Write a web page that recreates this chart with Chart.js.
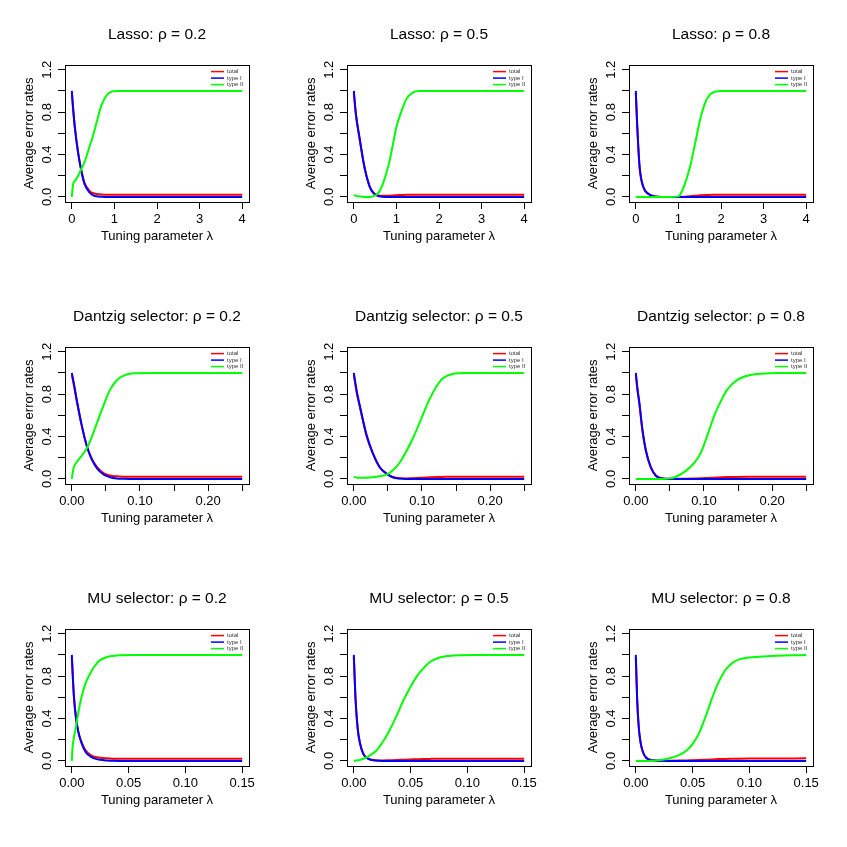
<!DOCTYPE html>
<html>
<head>
<meta charset="utf-8">
<script src="https://cdn.jsdelivr.net/npm/chart.js@4.4.0/dist/chart.umd.min.js"></script>
<style>
  body { margin: 0; background: #fff; }
  #grid { position: relative; width: 847px; height: 847px; }
  .cell { position: absolute; width: 282px; height: 282px; }
</style>
</head>
<body>
<div id="grid"></div>
<script>
// tick values / labels shared by the panels
const yTickValues = [0, 0.2, 0.4, 0.6, 0.8, 1.0, 1.2];
const yTickLabels = ['0.0', '', '0.4', '', '0.8', '', '1.2'];
const lassoTicks = [0, 1, 2, 3, 4];
const lassoTickLabels = ['0', '1', '2', '3', '4'];
const dantzigTicks = [0, 0.05, 0.10, 0.15, 0.20, 0.25];
const dantzigTickLabels = ['0.00', '', '0.10', '', '0.20', ''];
const muTicks = [0, 0.05, 0.10, 0.15];
const muTickLabels = ['0.00', '0.05', '0.10', '0.15'];
const seriesNames = ['total', 'type I', 'type II'];

// Lasso, rho = 0.2
const lasso02X = [0, 0.03, 0.07, 0.15, 0.23, 0.3, 0.42, 0.5, 0.58, 0.7, 0.84, 0.97, 1.1, 1.3, 2, 3, 4];
const lasso02Total = [0.98, 0.83, 0.66, 0.41, 0.24, 0.13, 0.055, 0.035, 0.027, 0.022, 0.02, 0.02, 0.02, 0.02, 0.02, 0.02, 0.02];
const lasso02TypeI = [1.0, 0.84, 0.66, 0.41, 0.23, 0.12, 0.04, 0.015, 0.006, 0.002, 0, 0, 0, 0, 0, 0, 0];
const lasso02TypeII = [0, 0.12, 0.15, 0.2, 0.27, 0.33, 0.48, 0.58, 0.7, 0.87, 0.97, 0.997, 1.0, 1.0, 1.0, 1.0, 1.0];

// Lasso, rho = 0.5
const lasso05X = [0, 0.05, 0.13, 0.25, 0.37, 0.45, 0.53, 0.6, 0.68, 0.76, 0.84, 0.92, 1.0, 1.12, 1.23, 1.39, 1.55, 2, 3, 4];
const lasso05Total = [0.98, 0.77, 0.56, 0.28, 0.1, 0.045, 0.02, 0.012, 0.01, 0.01, 0.012, 0.014, 0.016, 0.018, 0.02, 0.02, 0.02, 0.02, 0.02, 0.02];
const lasso05TypeI = [1.0, 0.78, 0.57, 0.28, 0.1, 0.04, 0.015, 0.006, 0.002, 0, 0, 0, 0, 0, 0, 0, 0, 0, 0, 0];
const lasso05TypeII = [0.02, 0.01, 0.005, 0, 0, 0.005, 0.02, 0.05, 0.12, 0.22, 0.34, 0.5, 0.66, 0.81, 0.92, 0.985, 0.998, 1.0, 1.0, 1.0];

// Lasso, rho = 0.8
const lasso08X = [0, 0.03, 0.055, 0.09, 0.17, 0.29, 0.45, 0.8, 1.0, 1.04, 1.15, 1.27, 1.39, 1.51, 1.63, 1.74, 1.86, 2.02, 3, 4];
const lasso08Total = [0.98, 0.69, 0.49, 0.27, 0.1, 0.03, 0.005, 0, 0, 0.0004, 0.0024, 0.0056, 0.01, 0.015, 0.018, 0.019, 0.02, 0.02, 0.02, 0.02];
const lasso08TypeI = [1.0, 0.7, 0.5, 0.28, 0.1, 0.03, 0.005, 0, 0, 0, 0, 0, 0, 0, 0, 0, 0, 0, 0, 0];
const lasso08TypeII = [0, 0, 0, 0, 0, 0, 0, 0, 0.005, 0.02, 0.12, 0.28, 0.5, 0.73, 0.89, 0.965, 0.993, 1.0, 1.0, 1.0];

// Dantzig selector, rho = 0.2
const dantzig02X = [0, 0.0025, 0.0074, 0.0147, 0.022, 0.029, 0.037, 0.047, 0.056, 0.066, 0.076, 0.091, 0.12, 0.18, 0.25];
const dantzig02Total = [0.98, 0.9, 0.73, 0.5, 0.31, 0.19, 0.11, 0.053, 0.032, 0.024, 0.021, 0.02, 0.02, 0.02, 0.02];
const dantzig02TypeI = [1.0, 0.92, 0.74, 0.5, 0.31, 0.19, 0.1, 0.04, 0.016, 0.005, 0.002, 0, 0, 0, 0];
const dantzig02TypeII = [0, 0.1, 0.16, 0.22, 0.29, 0.39, 0.53, 0.7, 0.84, 0.93, 0.975, 0.997, 1.0, 1.0, 1.0];

// Dantzig selector, rho = 0.5
const dantzig05X = [0, 0.004, 0.0088, 0.0185, 0.028, 0.038, 0.048, 0.057, 0.067, 0.077, 0.085, 0.092, 0.101, 0.111, 0.121, 0.13, 0.145, 0.165, 0.2, 0.25];
const dantzig05Total = [0.98, 0.82, 0.68, 0.41, 0.24, 0.11, 0.05, 0.018, 0.006, 0.005, 0.007, 0.009, 0.012, 0.015, 0.018, 0.019, 0.02, 0.02, 0.02, 0.02];
const dantzig05TypeI = [1.0, 0.84, 0.69, 0.42, 0.24, 0.11, 0.05, 0.016, 0.003, 0, 0, 0, 0, 0, 0, 0, 0, 0, 0, 0];
const dantzig05TypeII = [0.02, 0.012, 0.01, 0.01, 0.015, 0.025, 0.04, 0.08, 0.15, 0.26, 0.36, 0.46, 0.6, 0.75, 0.87, 0.945, 0.99, 1.0, 1.0, 1.0];

// Dantzig selector, rho = 0.8
const dantzig08X = [0, 0.0025, 0.005, 0.0098, 0.0148, 0.022, 0.0295, 0.037, 0.05, 0.057, 0.071, 0.087, 0.097, 0.106, 0.116, 0.126, 0.135, 0.148, 0.165, 0.185, 0.21, 0.25];
const dantzig08Total = [0.98, 0.83, 0.72, 0.45, 0.26, 0.11, 0.03, 0.006, 0.001, 0.001, 0.002, 0.004, 0.006, 0.009, 0.012, 0.015, 0.017, 0.019, 0.02, 0.02, 0.02, 0.02];
const dantzig08TypeI = [1.0, 0.85, 0.73, 0.46, 0.27, 0.11, 0.03, 0.006, 0, 0, 0, 0, 0, 0, 0, 0, 0, 0, 0, 0, 0, 0];
const dantzig08TypeII = [0, 0, 0, 0, 0, 0, 0, 0, 0.005, 0.016, 0.064, 0.16, 0.27, 0.43, 0.61, 0.75, 0.85, 0.93, 0.975, 0.993, 0.999, 1.0];

// MU selector, rho = 0.2
const mu02X = [0, 0.0006, 0.0018, 0.0035, 0.0056, 0.0085, 0.0124, 0.0174, 0.022, 0.025, 0.031, 0.036, 0.042, 0.054, 0.1, 0.15];
const mu02Total = [0.98, 0.85, 0.61, 0.42, 0.28, 0.18, 0.094, 0.051, 0.035, 0.029, 0.024, 0.021, 0.02, 0.02, 0.02, 0.02];
const mu02TypeI = [1.0, 0.86, 0.62, 0.42, 0.28, 0.17, 0.08, 0.035, 0.017, 0.01, 0.004, 0.001, 0, 0, 0, 0];
const mu02TypeII = [0, 0.12, 0.22, 0.31, 0.45, 0.6, 0.74, 0.85, 0.92, 0.95, 0.98, 0.99, 0.997, 1.0, 1.0, 1.0];

// MU selector, rho = 0.5
const mu05X = [0, 0.0015, 0.0035, 0.0056, 0.0085, 0.0124, 0.0197, 0.0256, 0.0315, 0.0374, 0.0432, 0.049, 0.055, 0.061, 0.0668, 0.0756, 0.0874, 0.105, 0.15];
const mu05Total = [0.98, 0.58, 0.29, 0.157, 0.063, 0.022, 0.005, 0.004, 0.006, 0.008, 0.011, 0.014, 0.016, 0.018, 0.019, 0.02, 0.02, 0.02, 0.02];
const mu05TypeI = [1.0, 0.59, 0.3, 0.16, 0.064, 0.022, 0.003, 0, 0, 0, 0, 0, 0, 0, 0, 0, 0, 0, 0];
const mu05TypeII = [0, 0.003, 0.006, 0.01, 0.02, 0.04, 0.096, 0.18, 0.29, 0.42, 0.56, 0.68, 0.79, 0.87, 0.93, 0.975, 0.994, 1.0, 1.0];

// MU selector, rho = 0.8
const mu08X = [0, 0.0012, 0.0026, 0.0041, 0.0062, 0.0091, 0.0144, 0.0203, 0.029, 0.038, 0.045, 0.05, 0.0556, 0.0615, 0.0674, 0.0732, 0.079, 0.085, 0.091, 0.1, 0.114, 0.15];
const mu08Total = [0.98, 0.57, 0.31, 0.18, 0.084, 0.03, 0.006, 0.002, 0.002, 0.003, 0.005, 0.006, 0.008, 0.011, 0.014, 0.017, 0.019, 0.02, 0.021, 0.022, 0.023, 0.024];
const mu08TypeI = [1.0, 0.58, 0.32, 0.18, 0.086, 0.03, 0.006, 0.001, 0, 0, 0, 0, 0, 0, 0, 0, 0, 0, 0, 0, 0, 0];
const mu08TypeII = [0, 0, 0, 0, 0, 0, 0.002, 0.006, 0.022, 0.054, 0.1, 0.16, 0.26, 0.42, 0.6, 0.75, 0.86, 0.925, 0.958, 0.975, 0.986, 1.0];

const FONT = "'Liberation Sans', Arial, Helvetica, sans-serif";
const colors = ['#ff0000', '#0000ff', '#00ff00'];

const lassoAxis = { ticks: lassoTicks, labels: lassoTickLabels };
const dantzigAxis = { ticks: dantzigTicks, labels: dantzigTickLabels };
const muAxis = { ticks: muTicks, labels: muTickLabels };

const panels = [
  { title: 'Lasso: ρ = 0.2', axis: lassoAxis, x: lasso02X, ys: [lasso02Total, lasso02TypeI, lasso02TypeII] },
  { title: 'Lasso: ρ = 0.5', axis: lassoAxis, x: lasso05X, ys: [lasso05Total, lasso05TypeI, lasso05TypeII] },
  { title: 'Lasso: ρ = 0.8', axis: lassoAxis, x: lasso08X, ys: [lasso08Total, lasso08TypeI, lasso08TypeII] },
  { title: 'Dantzig selector: ρ = 0.2', axis: dantzigAxis, x: dantzig02X, ys: [dantzig02Total, dantzig02TypeI, dantzig02TypeII] },
  { title: 'Dantzig selector: ρ = 0.5', axis: dantzigAxis, x: dantzig05X, ys: [dantzig05Total, dantzig05TypeI, dantzig05TypeII] },
  { title: 'Dantzig selector: ρ = 0.8', axis: dantzigAxis, x: dantzig08X, ys: [dantzig08Total, dantzig08TypeI, dantzig08TypeII] },
  { title: 'MU selector: ρ = 0.2', axis: muAxis, x: mu02X, ys: [mu02Total, mu02TypeI, mu02TypeII] },
  { title: 'MU selector: ρ = 0.5', axis: muAxis, x: mu05X, ys: [mu05Total, mu05TypeI, mu05TypeII] },
  { title: 'MU selector: ρ = 0.8', axis: muAxis, x: mu08X, ys: [mu08Total, mu08TypeI, mu08TypeII] },
];

// box around the plot region + the little legend in the corner
const boxAndLegend = {
  id: 'boxAndLegend',
  afterDatasetsDraw(chart) {
    const { ctx, chartArea: a } = chart;
    ctx.save();
    ctx.strokeStyle = '#000';
    ctx.lineWidth = 1;
    ctx.strokeRect(Math.round(a.left) + 0.5, Math.round(a.top) + 0.5, Math.round(a.right - a.left), Math.round(a.bottom - a.top));
    ctx.font = '6px ' + FONT;
    ctx.textBaseline = 'middle';
    chart.data.datasets.forEach((ds, i) => {
      const y = a.top + 7 + i * 6.5;
      ctx.strokeStyle = ds.borderColor;
      ctx.lineWidth = 1.5;
      ctx.beginPath();
      ctx.moveTo(a.right - 38, y);
      ctx.lineTo(a.right - 25, y);
      ctx.stroke();
      ctx.fillStyle = '#333';
      ctx.fillText(ds.label, a.right - 22, y);
    });
    ctx.restore();
  }
};

const grid = document.getElementById('grid');

panels.forEach((p, k) => {
  const div = document.createElement('div');
  div.className = 'cell';
  div.style.left = (k % 3) * 282 + 'px';
  div.style.top = Math.floor(k / 3) * 282 + 'px';
  const canvas = document.createElement('canvas');
  canvas.width = 282;
  canvas.height = 282;
  div.appendChild(canvas);
  grid.appendChild(div);

  const t = p.axis.ticks;
  const span = t[t.length - 1] - t[0];

  new Chart(canvas.getContext('2d'), {
    type: 'line',
    data: {
      datasets: seriesNames.map((name, i) => ({
        label: name,
        data: p.x.map((xv, j) => ({ x: xv, y: p.ys[i][j] })),
        borderColor: colors[i],
        borderWidth: 2,
        pointRadius: 0,
        cubicInterpolationMode: 'monotone',
        fill: false,
        order: 2 - i,
      })),
    },
    options: {
      responsive: false,
      animation: false,
      devicePixelRatio: 1,
      layout: { padding: { left: 0, right: 33, top: 0, bottom: 0 } },
      plugins: {
        legend: { display: false },
        tooltip: { enabled: false },
        title: {
          display: true,
          fullSize: false,
          text: p.title,
          color: '#000',
          font: { family: FONT, size: 15.5, weight: 'normal' },
          padding: { top: 25, bottom: 21 },
        },
      },
      scales: {
        x: {
          type: 'linear',
          min: t[0] - span * 0.04,
          max: t[t.length - 1] + span * 0.04,
          afterBuildTicks: (s) => { s.ticks = t.map(v => ({ value: v })); },
          afterFit: (s) => { s.height = 80; },
          grid: { drawOnChartArea: false, drawTicks: true, tickLength: 7, color: '#000' },
          border: { display: false },
          ticks: {
            autoSkip: false, maxRotation: 0, minRotation: 0, padding: 3, color: '#000',
            font: { family: FONT, size: 13 },
            callback: (v, i) => p.axis.labels[i],
          },
          title: {
            display: true, text: 'Tuning parameter λ', color: '#000',
            font: { family: FONT, size: 13 },
            padding: { top: 0, bottom: 38 },
          },
        },
        y: {
          type: 'linear',
          min: -0.048,
          max: 1.248,
          afterBuildTicks: (s) => { s.ticks = yTickValues.map(v => ({ value: v })); },
          afterFit: (s) => { s.width = 65; },
          grid: { drawOnChartArea: false, drawTicks: true, tickLength: 7, color: '#000' },
          border: { display: false },
          ticks: {
            autoSkip: false, minRotation: 90, maxRotation: 90, crossAlign: 'center', padding: 2, color: '#000',
            font: { family: FONT, size: 13 },
            callback: (v, i) => yTickLabels[i],
          },
          title: {
            display: true, text: 'Average error rates', color: '#000',
            font: { family: FONT, size: 13 },
            padding: { top: 22, bottom: 0 },
          },
        },
      },
    },
    plugins: [boxAndLegend],
  });
});
</script>
</body>
</html>
